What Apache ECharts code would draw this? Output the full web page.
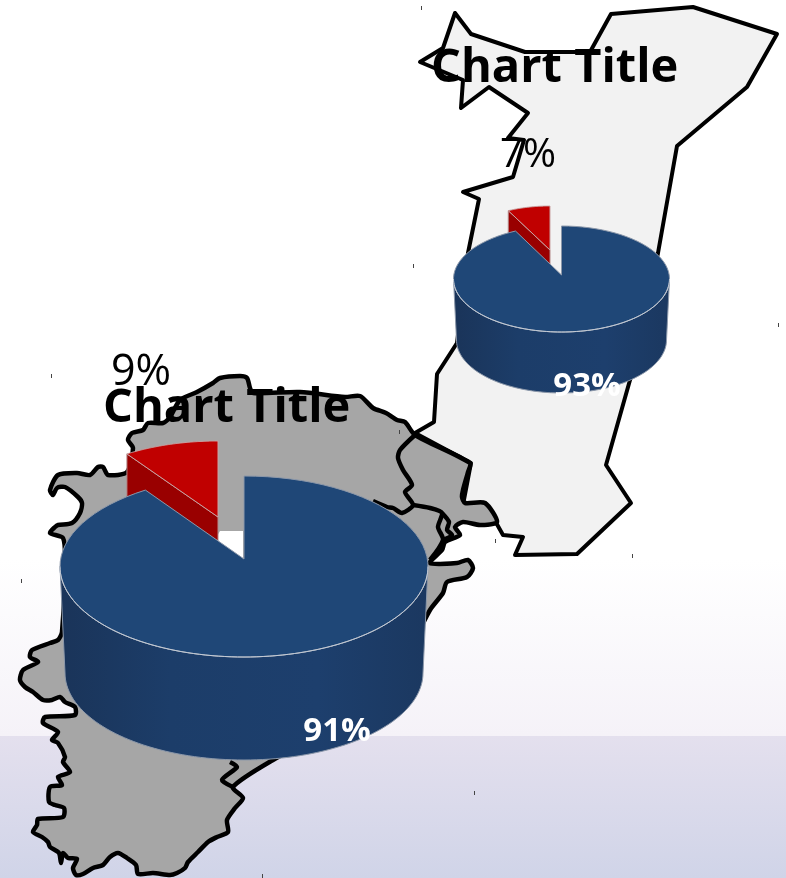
<!DOCTYPE html>
<html>
<head>
<meta charset="utf-8">
<style>html,body{margin:0;padding:0;background:#fff}#main{width:786px;height:878px}</style>
<script src="https://cdn.jsdelivr.net/npm/echarts@6/dist/echarts.min.js"></script>
</head>
<body>
<div id="main"></div>
<script>
// values
var bigPieNames = ['Other', 'Share'];
var bigPieValues = [91, 9];
var smallPieNames = ['Other', 'Share'];
var smallPieValues = [93, 7];
var titleText = 'Chart Title';

// map shapes behind the pies
var lightMap = [[455,13],[471,34],[525,52],[590,52],[611,14],[693,7],[777,34],[747,87],[677,146],[658,253],[630,380],[606,465],[631,503],[577,554],[515,555],[523,537],[503,535],[485,503],[463,505],[471,463],[415,433],[434,422],[437,374],[457,343],[468,253],[479,199],[463,192],[513,177],[524,140],[508,138],[528,113],[489,87],[461,108],[463,80],[420,62],[443,48]];
var grayMap = [[213,383],[220,378],[240,376],[247,378],[250,388],[253,393],[300,392],[345,397],[360,396],[373,408],[386,413],[397,420],[405,422],[415,435],[470,463],[468,472],[463,490],[462,497],[465,503],[485,503],[497,522],[480,525],[463,522],[455,527],[460,535],[445,542],[442,550],[430,563],[457,563],[468,560],[473,568],[467,577],[447,582],[443,593],[430,610],[380,700],[273,760],[233,787],[243,798],[235,808],[227,820],[228,832],[217,837],[208,842],[198,852],[188,862],[185,868],[177,873],[170,875],[153,873],[138,874],[136,865],[127,858],[118,853],[110,857],[103,865],[93,868],[83,874],[76,875],[73,868],[77,859],[68,858],[63,853],[61,863],[59,853],[50,847],[48,842],[42,837],[33,832],[37,825],[38,819],[63,817],[64,808],[55,805],[49,802],[50,787],[62,785],[58,777],[70,772],[63,762],[65,757],[58,743],[52,740],[58,732],[43,723],[45,717],[75,715],[75,707],[65,702],[60,697],[52,700],[43,700],[33,692],[25,687],[20,680],[23,670],[38,662],[30,657],[32,650],[50,643],[58,640],[62,632],[65,560],[63,538],[50,533],[55,527],[58,525],[72,523],[80,513],[82,503],[78,497],[65,487],[57,488],[53,495],[50,490],[58,475],[77,473],[90,475],[98,467],[103,467],[108,475],[127,472],[133,448],[128,440],[132,433],[143,430],[148,423],[163,423],[170,417],[180,400],[197,392]];
var innerBorders = [
	[[415,435],[400,450],[398,458],[403,470],[412,485],[405,492],[413,505],[402,513],[393,508],[387,507],[373,501]],
	[[413,505],[430,508],[442,513],[438,527],[443,540],[430,560]],
	[[442,513],[449,522],[447,530],[452,535],[443,540]],
	[[233,787],[222,780],[237,767],[230,762]]
];
var specks = [[421,8],[413,266],[778,325],[51,376],[21,581],[399,432],[495,541],[632,556],[474,793],[262,876]];

var deg = Math.PI / 180;

// point on an ellipse, angle measured clockwise from the top
function onEllipse(e, a) {
	return [e.cx + e.rx * Math.sin(a), e.cy - e.ry * Math.cos(a)];
}
function arcPoints(e, from, to) {
	var pts = [], n = 90;
	for (var i = 0; i <= n; i++) {
		pts.push(onEllipse(e, from + (to - from) * i / n));
	}
	return pts;
}

// one custom series per pie, the small slice is drawn first so the big one covers it
function pieSeries(names, values, geo) {
	var total = 0;
	for (var i = 0; i < values.length; i++) total += values[i];
	var data = [];
	for (var j = values.length - 1; j >= 0; j--) {
		data.push({name: names[j], value: [values[j], j]});
	}
	return {
		type: 'custom',
		coordinateSystem: 'none',
		data: data,
		silent: true,
		renderItem: function (params, api) {
			var sweep = api.value(0) / total * 360 * deg;
			var label = api.value(0) + '%';
			if (api.value(1) === 0) {
				var front = arcPoints(geo.top, 90 * deg, 270 * deg);
				var back = arcPoints(geo.bottom, 270 * deg, 90 * deg);
				return {
					type: 'group',
					children: [{
						type: 'polygon',
						shape: {points: front.concat(back)},
						style: {
							fill: new echarts.graphic.LinearGradient(0, 0, 1, 0, [
								{offset: 0, color: '#1a3459'},
								{offset: 0.3, color: '#1c3d69'},
								{offset: 0.7, color: '#1d3f6d'},
								{offset: 1, color: '#1b3860'}
							]),
							stroke: '#8c98aa',
							lineWidth: 1
						}
					}, {
						type: 'polygon',
						shape: {points: arcPoints(geo.top, 0, sweep).concat([geo.apex])},
						style: {fill: '#1f4777', stroke: '#8c98aa', lineWidth: 1}
					}, {
						type: 'polyline',
						shape: {points: arcPoints(geo.top, 90 * deg, 270 * deg)},
						style: {fill: null, stroke: '#c5ccd6', lineWidth: 1}
					}, {
						type: 'text',
						style: {
							x: geo.mainLabel[0], y: geo.mainLabel[1], text: label,
							fill: '#fff', font: 'bold ' + geo.mainFont + 'px "Open Sans"',
							textAlign: 'center', textVerticalAlign: 'middle'
						}
					}]
				};
			}
			var r = geo.red;
			var left = onEllipse(r, -sweep);
			return {
				type: 'group',
				children: [{
					type: 'polygon',
					shape: {points: [left, r.apex, [r.apex[0], r.apex[1] + r.depth], [left[0], left[1] + r.depth]]},
					style: {fill: '#990000', stroke: '#b48a8a', lineWidth: 1}
				}, {
					type: 'polygon',
					shape: {points: arcPoints(r, -sweep, 0).concat([r.apex])},
					style: {fill: '#c00000', stroke: '#c9a3a3', lineWidth: 1}
				}, {
					type: 'text',
					style: {
						x: geo.sideLabel[0], y: geo.sideLabel[1], text: label,
						fill: '#000', font: geo.sideFont + 'px "Open Sans"',
						textAlign: 'center', textVerticalAlign: 'middle'
					}
				}]
			};
		}
	};
}

var graphics = [{
	type: 'rect', z: -10,
	shape: {x: 0, y: 0, width: 786, height: 736},
	style: {fill: new echarts.graphic.LinearGradient(0, 0, 0, 1, [
		{offset: 0, color: '#ffffff'},
		{offset: 0.76, color: '#ffffff'},
		{offset: 1, color: '#f5f2f8'}
	])}
}, {
	type: 'rect', z: -10,
	shape: {x: 0, y: 736, width: 786, height: 142},
	style: {fill: new echarts.graphic.LinearGradient(0, 0, 0, 1, [
		{offset: 0, color: '#e4e0ee'},
		{offset: 1, color: '#d0d4e8'}
	])}
}, {
	type: 'polygon', z: -9,
	shape: {points: lightMap},
	style: {fill: '#f2f2f2', stroke: '#000', lineWidth: 4, lineJoin: 'round'}
}, {
	type: 'polygon', z: -8,
	shape: {points: grayMap, smooth: 0.25},
	style: {fill: '#a6a6a6', stroke: '#000', lineWidth: 4.5, lineJoin: 'round'}
}, {
	type: 'polygon', z: -7,
	shape: {points: [[220,531],[243,531],[243,560],[215,540]]},
	style: {fill: '#fff'}
}];
innerBorders.forEach(function (line) {
	graphics.push({
		type: 'polyline', z: -7,
		shape: {points: line, smooth: 0.25},
		style: {fill: null, stroke: '#000', lineWidth: 4.5, lineJoin: 'round'}
	});
});
specks.forEach(function (p) {
	graphics.push({
		type: 'rect', z: -7,
		shape: {x: p[0], y: p[1] - 2, width: 1, height: 4},
		style: {fill: '#444'}
	});
});

var chart = echarts.init(document.getElementById('main'));
chart.setOption({
	animation: false,
	backgroundColor: '#fff',
	title: [{
		text: titleText, left: 426, top: 40,
		textStyle: {color: '#000', fontFamily: 'Open Sans', fontWeight: 'bold', fontSize: 47}
	}, {
		text: titleText, left: 98, top: 380,
		textStyle: {color: '#000', fontFamily: 'Open Sans', fontWeight: 'bold', fontSize: 47}
	}],
	graphic: graphics,
	series: [
		pieSeries(bigPieNames, bigPieValues, {
			top: {cx: 244, cy: 566.5, rx: 184, ry: 90.5},
			bottom: {cx: 244, cy: 673, rx: 179, ry: 87},
			apex: [244, 559],
			red: {cx: 218, cy: 524, rx: 170, ry: 83, apex: [218, 517], depth: 50},
			mainLabel: [337, 732], mainFont: 33,
			sideLabel: [141, 373], sideFont: 43
		}),
		pieSeries(smallPieNames, smallPieValues, {
			top: {cx: 561.5, cy: 279, rx: 108, ry: 53},
			bottom: {cx: 561.5, cy: 340, rx: 105, ry: 53},
			apex: [561.5, 275],
			red: {cx: 550, cy: 255, rx: 98, ry: 49, apex: [550, 250], depth: 30},
			mainLabel: [587, 387], mainFont: 33,
			sideLabel: [528, 156], sideFont: 40
		})
	]
});
</script>
</body>
</html>
